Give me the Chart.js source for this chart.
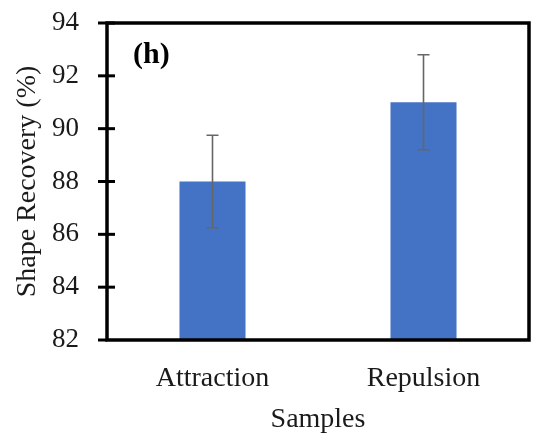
<!DOCTYPE html>
<html>
<head>
<meta charset="utf-8">
<script src="https://cdn.jsdelivr.net/npm/chart.js@4"></script>
<style>
html,body{margin:0;padding:0;background:#fff;}
#wrap{width:537px;height:436px;position:relative;}
</style>
</head>
<body>
<div id="wrap"><canvas id="c" width="537" height="436"></canvas></div>
<script>
const categories = ['Attraction', 'Repulsion'];
const recovery = [88.0, 91.0];
const errors = [1.75, 1.8];
const yMin = 82, yMax = 94, yStep = 2;
const panelLabel = '(h)';

const FONT = "'Liberation Serif', 'Times New Roman', serif";
const TEXT = '#1a1a1a';

const framePlugin = {
  id: 'frame',
  afterDatasetsDraw(chart) {
    const ctx = chart.ctx;
    const a = chart.chartArea;
    const y = chart.scales.y;
    const meta = chart.getDatasetMeta(0);
    ctx.save();
    // error bars
    ctx.strokeStyle = '#666666';
    ctx.lineWidth = 1.6;
    meta.data.forEach((bar, i) => {
      const cx = bar.x;
      const top = y.getPixelForValue(recovery[i] + errors[i]);
      const bot = y.getPixelForValue(recovery[i] - errors[i]);
      ctx.beginPath();
      ctx.moveTo(cx, top); ctx.lineTo(cx, bot);
      ctx.moveTo(cx - 6, top); ctx.lineTo(cx + 6, top);
      ctx.moveTo(cx - 6, bot); ctx.lineTo(cx + 6, bot);
      ctx.stroke();
    });
    // frame
    ctx.strokeStyle = '#000';
    ctx.lineWidth = 3.5;
    ctx.beginPath();
    ctx.moveTo(a.left, a.top);
    ctx.lineTo(a.right, a.top);
    ctx.lineTo(a.right, a.bottom);
    ctx.lineTo(a.left, a.bottom);
    ctx.closePath();
    ctx.stroke();
    // crossing y ticks
    ctx.lineWidth = 3;
    y.ticks.forEach((t, i) => {
      const py = y.getPixelForTick(i);
      ctx.beginPath();
      ctx.moveTo(a.left - 9, py);
      ctx.lineTo(a.left + (i === 0 ? 0 : 8), py);
      ctx.stroke();
    });
    // panel label
    ctx.fillStyle = '#000';
    ctx.font = "bold 30px " + FONT;
    ctx.textBaseline = 'alphabetic';
    ctx.textAlign = 'left';
    ctx.fillText(panelLabel, a.left + 26, a.top + 40);
    ctx.restore();
  }
};

new Chart(document.getElementById('c'), {
  type: 'bar',
  data: {
    labels: categories,
    datasets: [{
      data: recovery,
      backgroundColor: '#4472C4',
      borderWidth: 0,
      barPercentage: 0.313,
      categoryPercentage: 1.0
    }]
  },
  options: {
    responsive: false,
    animation: false,
    events: [],
    layout: { padding: { left: 0, right: 8, top: 23, bottom: 0 } },
    plugins: { legend: { display: false }, tooltip: { enabled: false } },
    scales: {
      x: {
        grid: { display: false, drawTicks: false },
        border: { display: false },
        ticks: { color: TEXT, font: { family: FONT, size: 28 }, padding: 22, maxRotation: 0 },
        title: { display: true, text: 'Samples', color: TEXT, font: { family: FONT, size: 28 }, padding: { top: 4, bottom: 0 } },
        afterFit(s) { s.height = 96; }
      },
      y: {
        min: yMin, max: yMax,
        ticks: { stepSize: yStep, color: TEXT, font: { family: FONT, size: 27 }, padding: 5 },
        grid: { display: true, drawOnChartArea: false, drawTicks: true, tickLength: 23, color: 'rgba(0,0,0,0)' },
        border: { display: false },
        title: { display: true, text: 'Shape Recovery (%)', color: TEXT, font: { family: FONT, size: 28 }, padding: { top: 11, bottom: 0 } },
        afterFit(s) { s.width = 107; }
      }
    }
  },
  plugins: [framePlugin]
});
</script>
</body>
</html>
